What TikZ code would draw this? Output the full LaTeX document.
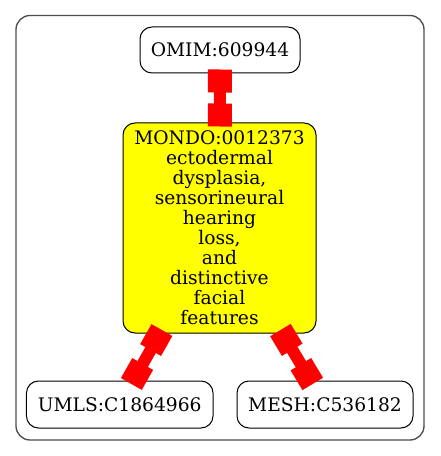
\documentclass[tikz,border=0pt]{standalone}
\usepackage{fontspec}
\setmainfont{DejaVu Serif}
\usetikzlibrary{arrows.meta}

\definecolor{termyellow}{RGB}{255,255,0}
\definecolor{linkred}{RGB}{255,0,0}

\tikzset{
  term/.style={draw=black,line width=0.75pt,rounded corners=9pt,inner sep=0pt,align=center,font=\fontsize{14}{15}\selectfont},
  xref/.style={draw=linkred,line width=9pt,{Square[length=17.25pt,width=18pt]}-{Square[length=17.25pt,width=18pt]},shorten <=-3pt,shorten >=-3pt}
}

\begin{document}
\begin{tikzpicture}[x=0.75pt,y=-0.75pt]

\useasboundingbox (0,0) rectangle (440,456);
\draw[black!70,line width=1pt,rounded corners=10.5pt] (16,15.5) rectangle (424,440);

%terms
\node[term,minimum width=120pt,minimum height=34.5pt] (omim) at (220,50){OMIM:609944};
\node[term,fill=termyellow,minimum width=144.75pt,minimum height=157.5pt] (mondo) at (219.5,228){MONDO:0012373\\ectodermal\\dysplasia,\\sensorineural\\hearing\\loss,\\and\\distinctive\\facial\\features};
\node[term,minimum width=139.9pt,minimum height=35.25pt] (umls) at (119.75,404.5){UMLS:C1864966};
\node[term,minimum width=132pt,minimum height=35.25pt] (mesh) at (325,404.5){MESH:C536182};

%links
\draw[xref] (omim) -- (mondo);
\draw[xref] (mondo) -- (umls);
\draw[xref] (mondo) -- (mesh);

\end{tikzpicture}
\end{document}
